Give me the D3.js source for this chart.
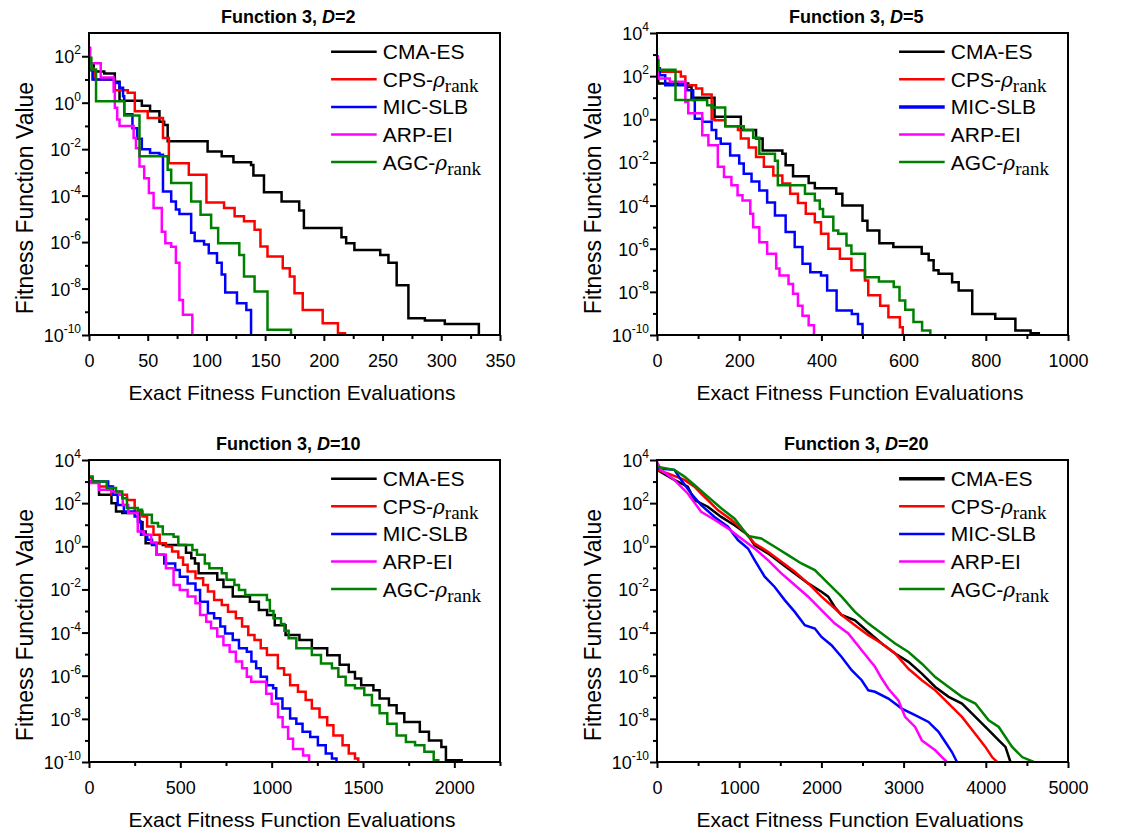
<!DOCTYPE html>
<html><head><meta charset="utf-8">
<script src="https://cdn.jsdelivr.net/npm/d3@7"></script>
<style>
body{margin:0;background:#fff}
svg{display:block}
text{font-family:"Liberation Sans",Arial,sans-serif;fill:#000}
</style>
</head><body>
<svg id="chart" width="1132" height="835"></svg>
<script>
// ---------------- DATA ----------------
const seriesNames = ["CMA-ES", "CPS-", "MIC-SLB", "ARP-EI", "AGC-"];
const seriesSub = [null, "rank", null, null, "rank"];
const dims = ["2", "5", "10", "20"];

// D = 2  [evaluations, fitness]
const d2_cmaes = [[0,50],[4,22],[13,18],[22,8],[26,1.2],[45,0.74],[52,0.43],[60,0.15],[64,0.11],[67,0.022],[101,7.9e-3],[113,5e-3],[123,2.7e-3],[138,2.1e-3],[140,7.4e-4],[149,1.4e-4],[164,5.6e-5],[179,2.3e-5],[183,4e-6],[215,1.6e-6],[219,8.9e-7],[226,4.6e-7],[248,2.8e-7],[255,1.3e-7],[262,1.4e-8],[272,5.2e-10],[286,4.2e-10],[303,3e-10],[332,1e-10]];
const d2_cps = [[0,30],[4,10],[22,3.4],[33,2.7],[39,0.43],[50,0.22],[63,0.03],[68,2.5e-3],[85,7.9e-4],[100,5e-5],[115,2.9e-5],[124,1.3e-5],[132,7.9e-6],[141,3.4e-6],[146,6.5e-7],[152,2.4e-7],[165,7.4e-8],[171,3.3e-8],[175,6.3e-9],[182,1.2e-9],[199,3.2e-10],[212,1.2e-10],[218,1e-10]];
const d2_mic = [[0,25],[3,10],[22,7],[26,4.4],[29,1.9],[30,0.32],[37,0.08],[41,0.028],[45,0.01],[52,6.8e-3],[60,5.8e-3],[63,1.5e-4],[70,5.6e-5],[74,2.5e-5],[77,1.6e-5],[87,2.5e-6],[90,1.1e-6],[98,7.9e-7],[102,3.3e-7],[109,1.3e-7],[113,4e-8],[116,6.8e-9],[126,2.3e-9],[134,1.2e-9],[138,1e-10]];
const d2_arp = [[0,230],[1,50],[10,12],[21,3],[22,0.6],[24,0.19],[26,0.1],[38,0.03],[40,0.011],[43,1.8e-3],[47,5.6e-4],[51,1.3e-4],[55,2.9e-5],[62,2.8e-6],[65,8.9e-7],[70,6.3e-7],[74,1.3e-7],[77,3.2e-9],[80,7.4e-10],[88,1e-10]];
const d2_agc = [[0,85],[2,27],[6,1.15],[30,0.28],[43,5e-3],[67,1.3e-3],[70,3.5e-4],[87,5.6e-5],[95,1.5e-5],[104,4e-6],[110,8.9e-7],[128,2.8e-7],[132,3.3e-8],[141,7.4e-9],[152,1.7e-10],[172,1e-10]];

// D = 5
const d5_cmaes = [[0,800],[2,100],[3,46],[76,32],[84,10],[140,1.3],[204,0.32],[241,0.13],[257,0.036],[305,0.025],[313,7.4e-3],[331,2.3e-3],[369,1.1e-3],[384,6.3e-4],[436,3.5e-4],[451,1e-4],[500,2e-5],[512,7e-6],[541,1.8e-6],[575,1.2e-6],[644,5.9e-7],[661,2.9e-7],[673,1e-7],[685,6.9e-8],[718,2.8e-8],[734,1.15e-8],[767,9.5e-10],[823,5.6e-10],[872,1.6e-10],[909,1.2e-10],[929,1e-10]];
const d5_cps = [[0,550],[3,160],[58,95],[69,38],[95,27],[110,14],[133,1.0],[140,0.9],[166,0.48],[197,0.32],[204,0.13],[223,0.049],[241,0.018],[260,6.3e-3],[283,2.5e-3],[305,1.05e-3],[324,3.5e-4],[343,1.3e-4],[362,4.2e-5],[384,1.7e-5],[399,5e-6],[417,1e-6],[445,3.4e-7],[473,1e-7],[506,3.4e-8],[514,7e-9],[543,2.3e-9],[563,6.6e-10],[591,2.3e-10],[598,1e-10]];
const d5_mic = [[0,800],[1,230],[7,110],[20,38],[73,22],[88,7.8],[92,1.07],[110,0.76],[133,0.32],[144,0.13],[155,0.074],[178,0.021],[200,8.9e-3],[211,3e-3],[230,1.3e-3],[249,5e-4],[268,1.4e-4],[287,3.5e-5],[313,5.9e-6],[335,1.2e-6],[354,2e-7],[373,8.1e-8],[399,5.8e-8],[414,1.15e-8],[437,1.35e-9],[474,9.5e-10],[489,3.2e-10],[500,1e-10]];
const d5_arp = [[0,800],[2,78],[31,55],[69,6.3],[76,1.9],[110,0.18],[125,0.063],[148,6.3e-3],[163,2.1e-3],[181,8.7e-4],[196,3e-4],[208,1.7e-4],[227,4.2e-5],[234,1e-5],[249,2e-6],[268,5.8e-7],[290,1.2e-7],[298,5.8e-8],[320,2.3e-8],[331,8.1e-9],[343,2.3e-9],[354,7.9e-10],[369,2.8e-10],[382,1e-10]];
const d5_agc = [[0,550],[3,200],[45,7.8],[122,4.5],[133,3.5],[166,0.48],[211,0.32],[234,0.14],[249,0.025],[287,0.012],[294,8.7e-4],[360,3.5e-4],[384,1.7e-4],[396,7e-5],[404,3e-5],[429,7e-6],[441,5e-6],[461,1.4e-6],[473,5.8e-7],[506,4.8e-8],[540,3e-8],[576,1.7e-8],[590,4e-9],[604,1.5e-9],[624,4e-10],[645,1.6e-10],[665,1e-10]];

// D = 10
const d10_cmaes = [[0,1000],[55,245],[123,100],[148,41],[182,35],[276,13],[293,4.8],[310,1.4],[404,1.15],[531,0.5],[560,0.28],[580,0.16],[600,0.056],[702,0.028],[736,0.013],[787,4.7e-3],[881,2.7e-3],[930,1.1e-3],[975,6.5e-4],[1017,2.2e-4],[1076,7.8e-5],[1152,4.5e-5],[1220,1.9e-5],[1304,9e-6],[1372,3.2e-6],[1422,1.5e-6],[1456,7.4e-7],[1490,3.6e-7],[1557,2.1e-7],[1591,8.7e-8],[1642,4.3e-8],[1684,1.8e-8],[1726,7.2e-9],[1811,2.5e-9],[1861,1e-9],[1929,5e-10],[1954,1.2e-10],[2040,1e-10]];
const d10_cps = [[0,1450],[20,900],[55,590],[123,245],[208,140],[250,41],[293,24],[318,8.3],[353,3.4],[387,1.4],[421,0.98],[455,0.58],[489,0.3],[515,0.14],[540,0.068],[583,0.033],[625,0.016],[651,8e-3],[685,3.2e-3],[727,1.9e-3],[761,9.3e-4],[804,4.6e-4],[838,1.9e-4],[872,7.8e-5],[906,4.5e-5],[940,1.9e-5],[974,9.1e-6],[1034,2.2e-6],[1068,1.1e-6],[1101,3.6e-7],[1144,1.8e-7],[1186,7.4e-8],[1220,3e-8],[1262,1.2e-8],[1304,5e-9],[1338,1.7e-9],[1388,6e-10],[1422,2.5e-10],[1456,1.45e-10],[1474,1e-10]];
const d10_mic = [[0,1000],[105,590],[131,245],[157,83],[191,41],[250,24],[268,14],[285,3.4],[319,2],[345,1.15],[370,0.4],[412,0.16],[472,0.079],[497,0.039],[540,0.019],[583,9.5e-3],[608,2.7e-3],[651,7.9e-4],[685,4.6e-4],[719,1.9e-4],[745,9.1e-5],[787,4.5e-5],[821,1.9e-5],[864,1.3e-5],[889,4.5e-6],[915,2.2e-6],[940,8.9e-7],[974,3.6e-7],[1008,2.6e-7],[1025,8.7e-8],[1059,3e-8],[1101,1.05e-8],[1135,6e-9],[1169,2.5e-9],[1211,1.45e-9],[1253,6e-10],[1296,2.5e-10],[1330,1.45e-10],[1355,1e-10]];
const d10_arp = [[0,1000],[10,850],[55,420],[123,350],[165,245],[185,83],[215,35],[267,4.8],[300,3.4],[340,1.5],[370,0.4],[421,0.095],[463,0.016],[497,9.5e-3],[540,4.7e-3],[583,2.3e-3],[608,6.5e-4],[642,3.2e-4],[668,1.6e-4],[702,6.5e-5],[736,2.6e-5],[770,1.3e-5],[804,4.5e-6],[838,2.2e-6],[864,8.9e-7],[888,5.2e-7],[970,1.45e-7],[1000,5e-8],[1035,1.2e-8],[1060,4.2e-9],[1090,1.2e-9],[1117,4e-10],[1172,2e-10],[1205,1e-10]];
const d10_agc = [[0,1700],[20,1000],[97,500],[148,350],[182,170],[208,59],[267,49],[290,29],[344,12],[378,8.3],[404,3.6],[463,2.8],[489,1.15],[566,0.68],[591,0.4],[634,0.16],[659,0.095],[727,0.056],[753,0.028],[796,0.016],[821,9.5e-3],[855,5.5e-3],[974,3.2e-3],[990,1e-3],[1010,4.6e-4],[1051,2.5e-4],[1070,1.2e-4],[1093,5.4e-5],[1135,1.9e-5],[1220,9.1e-6],[1270,3.7e-6],[1330,2.2e-6],[1365,8.9e-7],[1405,3.6e-7],[1456,2.6e-7],[1507,1.26e-7],[1549,4.3e-8],[1591,1.8e-8],[1633,6e-9],[1684,1.7e-9],[1735,8.5e-10],[1785,6e-10],[1836,3e-10],[1887,1.2e-10],[1912,1e-10]];

// D = 20
const d20_cmaes = [[0,3500],[211,1200],[374,580],[456,140],[618,68],[781,23],[944,9.5],[1107,3.3],[1188,1.1],[1350,0.47],[1513,0.16],[1676,0.055],[1839,0.019],[2001,7.8e-3],[2083,4.6e-3],[2164,1.5e-3],[2246,6.5e-4],[2408,3.7e-4],[2571,1.07e-4],[2734,3.1e-5],[2897,1.07e-5],[3059,4.4e-6],[3222,1.26e-6],[3385,3e-7],[3548,1.05e-7],[3710,5.1e-8],[3873,1.23e-8],[4035,3e-9],[4158,1e-9],[4239,5e-10],[4300,1e-10]];
const d20_cps = [[0,3500],[130,2400],[334,1200],[456,580],[537,280],[618,140],[740,48],[903,17],[1066,4.7],[1188,1.35],[1350,0.56],[1513,0.19],[1676,0.066],[1839,0.019],[2001,4.6e-3],[2164,1.3e-3],[2246,6.5e-4],[2408,2.2e-4],[2571,7.6e-5],[2734,3.1e-5],[2897,1.07e-5],[3059,2.1e-6],[3222,6.2e-7],[3385,2.1e-7],[3548,5.1e-8],[3710,1.23e-8],[3873,2e-9],[3995,5e-10],[4076,1.7e-10],[4138,1e-10]];
const d20_mic = [[0,4000],[211,3500],[293,1200],[415,280],[537,81],[700,23],[862,8.1],[985,1.95],[1107,0.79],[1188,0.23],[1310,0.039],[1432,0.013],[1554,3.2e-3],[1676,9.1e-4],[1798,2.2e-4],[1920,1.55e-4],[2001,6.3e-5],[2123,2.6e-5],[2246,7.4e-6],[2368,1.8e-6],[2490,6.2e-7],[2571,2.1e-7],[2652,1.8e-7],[2815,8.7e-8],[2978,3e-8],[3140,1.5e-8],[3303,7.2e-9],[3425,2.5e-9],[3507,8.5e-10],[3588,2.9e-10],[3650,1e-10]];
const d20_arp = [[0,8300],[49,3500],[211,1200],[374,280],[537,40],[700,17],[862,6.8],[1025,2.3],[1188,0.79],[1350,0.23],[1513,0.055],[1676,0.016],[1839,4.6e-3],[2001,1.1e-3],[2164,2.6e-4],[2327,9.1e-5],[2490,1.5e-5],[2652,2.6e-6],[2734,7.4e-7],[2815,2.5e-7],[2937,7.2e-8],[3018,1.23e-8],[3140,4.2e-9],[3222,1e-9],[3385,3.5e-10],[3466,1.7e-10],[3527,1e-10]];
const d20_agc = [[0,4900],[211,3500],[334,1700],[456,690],[618,200],[781,58],[944,19],[1107,3],[1269,2.3],[1432,0.95],[1595,0.39],[1757,0.16],[1920,0.079],[2083,0.019],[2246,4.6e-3],[2408,9.1e-4],[2571,2.6e-4],[2734,9.1e-5],[2897,3.1e-5],[3059,1.26e-5],[3222,3.6e-6],[3385,8.7e-7],[3548,3e-7],[3710,1.05e-7],[3873,5.1e-8],[4035,8.5e-9],[4158,4.2e-9],[4239,1.45e-9],[4320,5e-10],[4442,1.7e-10],[4584,1e-10]];

// tick values
const xTicks_d2 = [0,50,100,150,200,250,300,350];
const xMinor_d2 = [25,75,125,175,225,275,325];
const xTicks_d5 = [0,200,400,600,800,1000];
const xMinor_d5 = [100,300,500,700,900];
const xTicks_d10 = [0,500,1000,1500,2000];
const xMinor_d10 = [250,750,1250,1750,2250];
const xTicks_d20 = [0,1000,2000,3000,4000,5000];
const xMinor_d20 = [500,1500,2500,3500,4500];
const yExpLabels_top3 = [-10,-8,-6,-4,-2,0,2];
const yExpLabels_top4 = [-10,-8,-6,-4,-2,0,2,4];
const yExpMinor_top3 = [-9,-7,-5,-3,-1,1,3];
const yExpMinor_top4 = [-9,-7,-5,-3,-1,1,3];

// ---------------- STYLE / LAYOUT ----------------
const colors = ["#000000", "#ff0000", "#0000ff", "#ff00ff", "#008000"];
const PW = 411, PH = 302;
const panels = [
  {dim: dims[0], left: 89, top: 33, xMax: 350, yTopExp: 3, xTicks: xTicks_d2, xMinor: xMinor_d2, yMaj: yExpLabels_top3, yMin: yExpMinor_top3,
   series: [d2_cmaes, d2_cps, d2_mic, d2_arp, d2_agc], thickLegend: -1},
  {dim: dims[1], left: 657, top: 33, xMax: 1000, yTopExp: 4, xTicks: xTicks_d5, xMinor: xMinor_d5, yMaj: yExpLabels_top4, yMin: yExpMinor_top4,
   series: [d5_cmaes, d5_cps, d5_mic, d5_arp, d5_agc], thickLegend: 2},
  {dim: dims[2], left: 89, top: 460, xMax: 2250, yTopExp: 4, xTicks: xTicks_d10, xMinor: xMinor_d10, yMaj: yExpLabels_top4, yMin: yExpMinor_top4,
   series: [d10_cmaes, d10_cps, d10_mic, d10_arp, d10_agc], thickLegend: -1},
  {dim: dims[3], left: 657, top: 460, xMax: 5000, yTopExp: 4, xTicks: xTicks_d20, xMinor: xMinor_d20, yMaj: yExpLabels_top4, yMin: yExpMinor_top4,
   series: [d20_cmaes, d20_cps, d20_mic, d20_arp, d20_agc], linear: true, thickLegend: 0}
];

const svg = d3.select("#chart");

panels.forEach((p, pi) => {
  const g = svg.append("g");
  const x = d3.scaleLinear().domain([0, p.xMax]).range([p.left, p.left + PW]);
  const y = d3.scaleLog().domain([1e-10, Math.pow(10, p.yTopExp)]).range([p.top + PH, p.top]);

  const clipId = "clip" + pi;
  svg.append("clipPath").attr("id", clipId).append("rect")
    .attr("x", p.left).attr("y", p.top - 1).attr("width", PW).attr("height", PH + 1);

  const line = d3.line().x(d => x(d[0])).y(d => y(d[1]))
    .curve(p.linear ? d3.curveLinear : d3.curveStepAfter);

  p.series.forEach((s, i) => {
    g.append("path").attr("d", line(s)).attr("fill", "none")
      .attr("stroke", colors[i]).attr("stroke-width", 2.5)
      .attr("stroke-linejoin", "miter").attr("clip-path", `url(#${clipId})`);
  });

  // frame
  g.append("rect").attr("x", p.left).attr("y", p.top).attr("width", PW).attr("height", PH)
    .attr("fill", "none").attr("stroke", "#000").attr("stroke-width", 2);

  // x axis
  const xa = g.append("g").attr("transform", `translate(0,${p.top + PH})`)
    .call(d3.axisBottom(x).tickValues(p.xTicks).tickSize(6).tickPadding(13).tickFormat(d3.format("d")));
  xa.select(".domain").remove();
  xa.selectAll("line").attr("stroke", "#000").attr("stroke-width", 2);
  xa.selectAll("text").attr("font-size", 18).attr("fill", "#000")
    .attr("font-family", '"Liberation Sans",Arial,sans-serif');
  const xm = g.append("g").attr("transform", `translate(0,${p.top + PH})`)
    .call(d3.axisBottom(x).tickValues(p.xMinor).tickSize(4).tickFormat(""));
  xm.select(".domain").remove();
  xm.selectAll("line").attr("stroke", "#000").attr("stroke-width", 2);

  // y axis
  const ya = g.append("g").attr("transform", `translate(${p.left},0)`)
    .call(d3.axisLeft(y).tickValues(p.yMaj.map(e => Math.pow(10, e))).tickSize(7).tickFormat(""));
  ya.select(".domain").remove();
  ya.selectAll("line").attr("stroke", "#000").attr("stroke-width", 2);
  ya.selectAll(".tick").each(function(d) {
    const e = Math.round(Math.log10(d));
    const t = d3.select(this).append("text").attr("x", -8).attr("y", 6.5)
      .attr("text-anchor", "end").attr("font-size", 18)
      .attr("font-family", '"Liberation Sans",Arial,sans-serif');
    t.append("tspan").text("10");
    t.append("tspan").attr("dy", -9).attr("font-size", 12).text(String(e));
  });
  const ym = g.append("g").attr("transform", `translate(${p.left},0)`)
    .call(d3.axisLeft(y).tickValues(p.yMin.map(e => Math.pow(10, e)).filter(v => v <= Math.pow(10, p.yTopExp) * 0.999)).tickSize(4).tickFormat(""));
  ym.select(".domain").remove();
  ym.selectAll("line").attr("stroke", "#000").attr("stroke-width", 2);

  // title
  const tt = g.append("text").attr("x", p.left + 0.485 * PW).attr("y", p.top - 10)
    .attr("text-anchor", "middle").attr("font-size", 18).attr("font-weight", "bold");
  tt.append("tspan").text("Function 3, ");
  tt.append("tspan").attr("font-style", "italic").text("D");
  tt.append("tspan").text("=" + p.dim);

  // axis titles
  g.append("text").attr("x", p.left + 0.494 * PW).attr("y", p.top + PH + 65)
    .attr("text-anchor", "middle").attr("font-size", 21).text("Exact Fitness Function Evaluations");
  g.append("text").attr("transform", `translate(${p.left - 56},${p.top + PH / 2 + 14}) rotate(-90)`)
    .attr("text-anchor", "middle").attr("font-size", 23).text("Fitness Function Value");

  // legend
  seriesNames.forEach((name, i) => {
    const ry = p.top + 18.7 + i * 27.6;
    g.append("line").attr("x1", p.left + 0.589 * PW).attr("x2", p.left + 0.70 * PW)
      .attr("y1", ry).attr("y2", ry).attr("stroke", colors[i])
      .attr("stroke-width", i === p.thickLegend ? 3.5 : 2.5);
    const t = g.append("text").attr("x", p.left + 0.715 * PW).attr("y", ry + 7.5).attr("font-size", 21);
    t.append("tspan").text(name);
    if (seriesSub[i]) {
      t.append("tspan").attr("font-family", '"DejaVu Serif","Liberation Serif",serif')
        .attr("font-style", "italic").attr("font-size", 20).text("ρ");
      t.append("tspan").attr("font-family", '"Liberation Serif",serif')
        .attr("font-size", 19).attr("dy", 5).text(seriesSub[i]);
    }
  });
});
</script>
</body></html>
